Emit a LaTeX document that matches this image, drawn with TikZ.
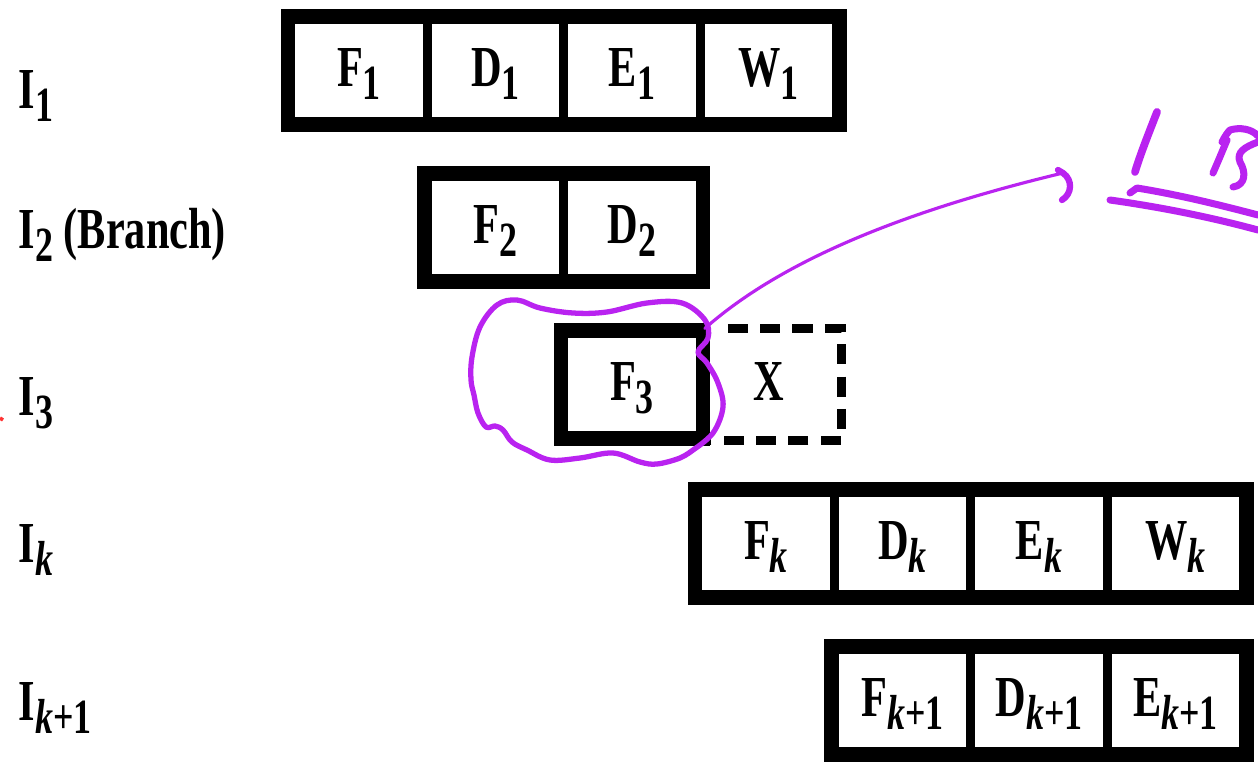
\documentclass[tikz,border=0pt]{standalone}
\usepackage{fontspec}
\setmainfont{Liberation Serif}[FakeStretch=0.73]
\usetikzlibrary{positioning}
\definecolor{hilite}{RGB}{185,35,240}
% lowered, slightly smaller index
\newcommand{\idx}[1]{\raisebox{-3.7pt}{\fontsize{14pt}{14pt}\selectfont #1}}

\begin{document}
\begin{tikzpicture}[node distance =1.57cm and 1.365cm ,on grid ,
stage/.style ={ rectangle ,draw ,line width =2.6pt ,minimum width =1.365cm ,
minimum height =1.03cm ,inner sep =0pt ,text height =12pt ,text depth =3pt ,
font =\fontsize{16.5pt}{19pt}\selectfont\bfseries},
frame/.style ={ line width =3.1pt},
instr/.style ={ anchor =base west ,inner sep =0pt ,font =\fontsize{16.5pt}{19pt}\selectfont\bfseries},
scribble/.style ={ draw =hilite ,line width =1.5pt ,line cap =round ,line join =round}]
\useasboundingbox (0,0) rectangle (12.58,-7.65);

% instruction names
\node[instr] (lab1) at (0.18,-1.08) {I\idx{1}};
\node[instr] (lab2) at (0.18,-2.48) {I\idx{2} (Branch)};
\node[instr] (lab3) at (0.18,-4.15) {I\idx{3}};
\node[instr] (labk) at (0.18,-5.62) {I\idx{\textit{k}}};
\node[instr] (labk1) at (0.18,-7.20) {I\idx{\textit{k}+1}};

% pipeline stages
\node[stage] (F1) at (3.59,-0.705) {F\idx{1}};
\node[stage] (D1) [right =of F1] {D\idx{1}};
\node[stage] (E1) [right =of D1] {E\idx{1}};
\node[stage] (W1) [right =of E1] {W\idx{1}};
\draw[frame] (F1.north west) rectangle (W1.south east);

\node[stage] (F2) [below =of D1] {F\idx{2}};
\node[stage] (D2) [right =of F2] {D\idx{2}};
\draw[frame] (F2.north west) rectangle (D2.south east);

\node[stage] (F3) [below =of D2] {F\idx{3}};
\node[stage ,draw =none] (X) [right =of F3] {X};
\draw[line width =2.6pt ,dash pattern =on 5.7pt off 3.5pt]
  ([xshift =2.3mm]F3.north east) -- (X.north east) -- (X.south east) -- (F3.south east);
\draw[frame] (F3.north west) rectangle (F3.south east);

\node[stage] (Fk) at (7.66,-5.435) {F\idx{\textit{k}}};
\node[stage] (Dk) [right =of Fk] {D\idx{\textit{k}}};
\node[stage] (Ek) [right =of Dk] {E\idx{\textit{k}}};
\node[stage] (Wk) [right =of Ek] {W\idx{\textit{k}}};
\draw[frame] (Fk.north west) rectangle (Wk.south east);

\node[stage] (Fk1) [below =of Dk] {F\idx{\textit{k}+1}};
\node[stage] (Dk1) [right =of Fk1] {D\idx{\textit{k}+1}};
\node[stage] (Ek1) [right =of Dk1] {E\idx{\textit{k}+1}};
\draw[frame] (Fk1.north west) rectangle (Ek1.south east);

% pen marks
\draw[scribble] plot[smooth ,tension =0.6] coordinates {
  (6.93,-4.50) (7.13,-4.33) (7.23,-4.07) (7.18,-3.83) (7.07,-3.63) (6.98,-3.52)
  (7.08,-3.38) (7.05,-3.20) (6.82,-3.03) (6.47,-3.03) (6.07,-3.12) (5.73,-3.13)
  (5.40,-3.08) (5.17,-3.00) (4.97,-3.05) (4.80,-3.27) (4.72,-3.57) (4.71,-3.80)
  (4.74,-3.95) (4.78,-4.13) (4.86,-4.27) (4.95,-4.26) (5.03,-4.30) (5.12,-4.42)
  (5.27,-4.50) (5.50,-4.60) (5.80,-4.58) (6.13,-4.53) (6.40,-4.62) (6.57,-4.64)
  (6.80,-4.58) (6.93,-4.50)};
\coordinate (tip) at (10.63,-1.73);
\draw[scribble ,line width =0.9pt] (F3.north east) .. controls (7.8,-2.62) and (9.0,-2.12) .. (tip);
\draw[scribble ,line width =1.8pt] (10.58,-1.70) -- (tip) .. controls (10.73,-1.80) and (10.72,-1.94) .. (10.62,-2.0);
% "1 B", underlined twice
\draw[scribble ,line width =2.2pt] (11.57,-1.12) .. controls (11.50,-1.30) and (11.40,-1.55) .. (11.35,-1.72);
\draw[scribble ,line width =2pt] (12.22,-1.42) .. controls (12.25,-1.36) and (12.28,-1.32) .. (12.30,-1.30)
  .. controls (12.40,-1.27) and (12.52,-1.29) .. (12.58,-1.36);
\draw[scribble ,line width =2pt] (12.27,-1.40) .. controls (12.22,-1.52) and (12.17,-1.64) .. (12.13,-1.73);
\draw[scribble ,line width =2pt] (12.58,-1.42) .. controls (12.45,-1.47) and (12.36,-1.52) .. (12.40,-1.62)
  .. controls (12.46,-1.72) and (12.46,-1.85) .. (12.33,-1.87);
\draw[scribble ,line width =2pt] (11.30,-1.93) -- (11.37,-1.88) .. controls (11.8,-1.95) and (12.2,-2.05) .. (12.58,-2.15);
\draw[scribble ,line width =2pt] (11.10,-2.00) .. controls (11.6,-2.07) and (12.1,-2.17) .. (12.58,-2.30);
\draw[red!80 ,line width =1pt] (0,-4.18) -- (0.03,-4.20);
\end{tikzpicture}
\end{document}
